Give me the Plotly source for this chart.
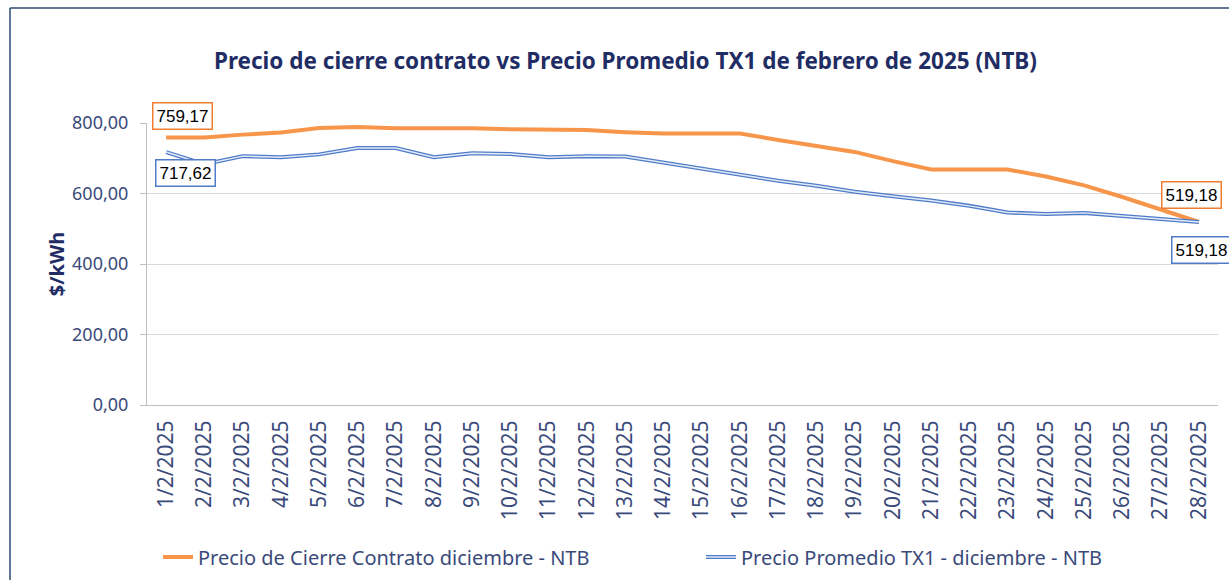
import plotly.graph_objects as go

dates = [f"{d}/2/2025" for d in range(1, 29)]
precio_cierre = [759.17, 759, 767, 773, 786, 789, 785, 785, 785, 782, 782, 780, 774, 770, 770, 770,
                 752, 735, 718, 692, 668, 668, 668, 648, 623, 590, 556, 519.18]
precio_tx1 = [717.62, 683, 706, 703, 711, 729, 729, 703, 714, 712, 703, 706, 705, 688, 672, 655,
              636, 622, 605, 592, 580, 565, 546, 542, 545, 536, 528, 519.18]

name_cierre = "Precio de Cierre Contrato diciembre - NTB"
name_tx1 = "Precio Promedio TX1 - diciembre - NTB"
title = "Precio de cierre contrato vs Precio Promedio TX1 de febrero de 2025 (NTB)"

NAVY = "#1F2D64"
TICK = "#3A4A7A"
ORANGE = "#F7964A"
BLUE = "#4F7BC8"
LIGHT = "#E3EBF7"

W, H = 1229, 580
L, R, T, B = 147, 11, 123, 175
pw, ph = W - L - R, H - T - B


def px(x):
    return (x - L) / pw


def py(y):
    return (H - B - y) / ph


fig = go.Figure()
fig.add_trace(go.Scatter(x=dates, y=precio_cierre, mode="lines", name=name_cierre,
                         line=dict(color=ORANGE, width=4), legend="legend"))
fig.add_trace(go.Scatter(x=dates, y=precio_tx1, mode="lines", name=name_tx1,
                         line=dict(color=BLUE, width=4), legend="legend2"))
fig.add_trace(go.Scatter(x=dates, y=precio_tx1, mode="lines", name=name_tx1,
                         line=dict(color=LIGHT, width=1.4), hoverinfo="skip", legend="legend3"))


def fmt(v):
    return f"{v:.2f}".replace(".", ",")


ann_font = dict(family="Liberation Sans", size=17, color="#000000")
annotations = [
    dict(x=dates[0], y=precio_cierre[0], text=fmt(precio_cierre[0]), ax=16, ay=-21,
         bordercolor="#ED7D31", borderwidth=1.5, bgcolor="white", borderpad=3),
    dict(x=dates[0], y=precio_tx1[0], text=fmt(precio_tx1[0]), ax=19, ay=21,
         bordercolor=BLUE, borderwidth=1.5, bgcolor="white", borderpad=3),
    dict(x=dates[-1], y=precio_cierre[-1], text=fmt(precio_cierre[-1]), ax=-7, ay=-27,
         bordercolor="#ED7D31", borderwidth=1.5, bgcolor="white", borderpad=3),
    dict(x=dates[-1], y=precio_tx1[-1], text=fmt(precio_tx1[-1]), ax=3, ay=28,
         bordercolor=BLUE, borderwidth=1.5, bgcolor="white", borderpad=3),
]
for a in annotations:
    a.update(xref="x", yref="y", showarrow=True, arrowcolor="rgba(0,0,0,0)", arrowwidth=0.1,
             font=ann_font)

annotations.append(dict(text=title, xref="paper", yref="paper", x=px(625), y=py(60),
                        xanchor="center", yanchor="middle", showarrow=False,
                        font=dict(family="Noto Sans", size=22.5, color=NAVY, weight="bold")))

leg_common = dict(orientation="h", yanchor="middle", xanchor="left", y=py(557),
                  bgcolor="rgba(0,0,0,0)", font=dict(family="Noto Sans", size=20, color=TICK))
fig.update_layout(
    width=W, height=H,
    margin=dict(l=L, r=R, t=T, b=B, autoexpand=False),
    paper_bgcolor="white", plot_bgcolor="white",
    annotations=annotations,
    showlegend=True,
    legend=dict(leg_common, x=px(158)),
    legend2=dict(leg_common, x=px(701)),
    legend3=dict(leg_common, x=px(701),
                 font=dict(family="Noto Sans", size=20, color="rgba(0,0,0,0)")),
    shapes=[
        dict(type="line", xref="paper", yref="paper", x0=px(10), x1=px(10), y0=py(8), y1=py(600),
             line=dict(color="#2E4A72", width=1.5)),
        dict(type="line", xref="paper", yref="paper", x0=px(10), x1=px(1240), y0=py(8), y1=py(8),
             line=dict(color="#2E4A72", width=1.5)),
    ],
)

fig.update_xaxes(type="category", range=[-0.5, 27.5], tickangle=-90, showgrid=False,
                 showline=True, linecolor="#BFBFBF", linewidth=1, ticks="", automargin=False,
                 ticklabelstandoff=6,
                 tickfont=dict(family="Noto Sans", size=21, color=TICK))
fig.update_yaxes(range=[0, 800], tickvals=[0, 200, 400, 600, 800],
                 ticktext=[fmt(v) for v in [0, 200, 400, 600, 800]],
                 showgrid=True, gridcolor="#D9D9D9", gridwidth=1, automargin=False,
                 showline=True, linecolor="#BFBFBF", linewidth=1, ticks="outside", ticklen=6,
                 tickcolor="#BFBFBF", zeroline=False, ticklabelstandoff=8,
                 tickfont=dict(family="Noto Sans", size=18, color=TICK),
                 title=dict(text="<b>$/kWh</b>", font=dict(family="Noto Sans", size=20, color=NAVY),
                            standoff=2))

fig.write_html("out.html", post_script="document.body.style.margin='0';",
               config={"displayModeBar": False})
